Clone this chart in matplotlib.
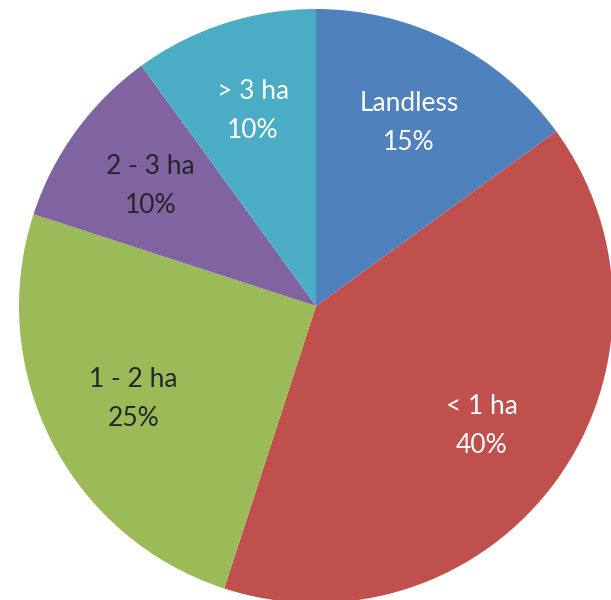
import matplotlib.pyplot as plt

# Land holding categories
categories = ["Landless", "< 1 ha", "1 - 2 ha", "2 - 3 ha", "> 3 ha"]
shares = [15, 40, 25, 10, 10]
colors = ["#4F81BD", "#C0504D", "#9BBB59", "#8064A2", "#4BACC6"]
text_colors = ["white", "white", "#262626", "#262626", "white"]

plt.rcParams['font.family'] = ['Lato', 'DejaVu Sans']

fig = plt.figure(figsize=(6.11, 6.0), dpi=100)
# pie is larger than the canvas on the right and bottom
ax = fig.add_axes([19 / 611, -3 / 600, 594 / 611, 594 / 600])

labels = [f"{c}\n{s}%" for c, s in zip(categories, shares)]
wedges, texts = ax.pie(shares, labels=labels, colors=colors, startangle=90,
                       counterclock=False, labeldistance=0.69,
                       wedgeprops=dict(linewidth=0),
                       textprops=dict(fontsize=19, linespacing=1.7))
for t, c in zip(texts, text_colors):
    t.set_color(c)
    t.set_horizontalalignment("center")
    t.set_verticalalignment("center")

ax.set_xlim(-1, 1)
ax.set_ylim(-1, 1)
ax.set_aspect("equal")
ax.axis("off")

fig.savefig("out.png", dpi=100)
